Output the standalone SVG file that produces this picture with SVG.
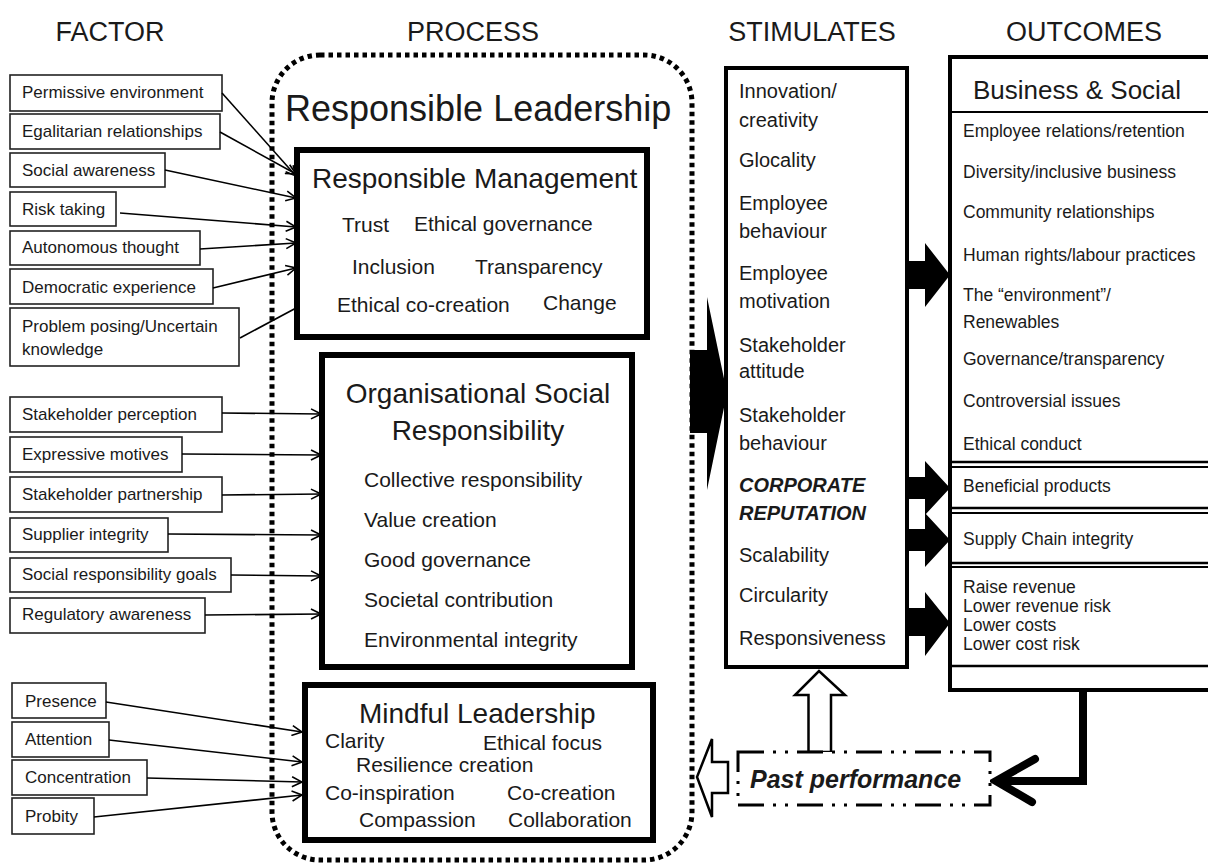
<svg xmlns="http://www.w3.org/2000/svg" width="1208" height="867" viewBox="0 0 1208 867">
<defs>
<style>
text{font-family:"Liberation Sans",Arial,sans-serif;fill:#1a1a1a}
.hdr{font-size:27px;text-anchor:middle}
.fbox{fill:#fff;stroke:#222;stroke-width:1.6}
.ft{font-size:17px}
.pbox{fill:#fff;stroke:#000;stroke-width:6}
.pt{font-size:28px}
.pi{font-size:21px}
.st{font-size:20px}
.ot{font-size:17.5px}
.conn{stroke:#000;stroke-width:1.6;fill:none}
.blk{fill:#000;stroke:none}
.hollow{fill:#fff;stroke:#000;stroke-width:2.5}
</style>
<marker id="ah" viewBox="0 0 12 12" refX="11" refY="6" markerWidth="12" markerHeight="12" markerUnits="userSpaceOnUse" orient="auto">
<path d="M1,1 L11,6 L1,11" fill="none" stroke="#000" stroke-width="1.6"/>
</marker>
</defs>
<rect width="1208" height="867" fill="#fff"/>

<g id="headers">
<text class="hdr" x="110" y="41">FACTOR</text>
<text class="hdr" x="473" y="41">PROCESS</text>
<text class="hdr" x="812" y="41">STIMULATES</text>
<text class="hdr" x="1084" y="41">OUTCOMES</text>
</g>

<g id="process-boundary">
<rect x="272" y="55" width="420" height="805" rx="48" fill="none" stroke="#000" stroke-width="5" stroke-dasharray="4.5 4"/>
<text x="285" y="121" font-size="36">Responsible Leadership</text>
</g>

<g id="f1"><rect class="fbox" x="10" y="75" width="212" height="36"/><text class="ft" x="22" y="98">Permissive environment</text></g>
<g id="f2"><rect class="fbox" x="10" y="114" width="210" height="35"/><text class="ft" x="22" y="137">Egalitarian relationships</text></g>
<g id="f3"><rect class="fbox" x="10" y="153" width="155" height="34"/><text class="ft" x="22" y="176">Social awareness</text></g>
<g id="f4"><rect class="fbox" x="10" y="192" width="106" height="34"/><text class="ft" x="22" y="215">Risk taking</text></g>
<g id="f5"><rect class="fbox" x="10" y="231" width="190" height="34"/><text class="ft" x="22" y="253">Autonomous thought</text></g>
<g id="f6"><rect class="fbox" x="10" y="269" width="203" height="35"/><text class="ft" x="22" y="293">Democratic experience</text></g>
<g id="f7"><rect class="fbox" x="10" y="308" width="229" height="58"/><text class="ft" x="22" y="332">Problem posing/Uncertain</text><text class="ft" x="22" y="355">knowledge</text></g>

<g id="f8"><rect class="fbox" x="10" y="397" width="212" height="35"/><text class="ft" x="22" y="420">Stakeholder perception</text></g>
<g id="f9"><rect class="fbox" x="10" y="437" width="172" height="35"/><text class="ft" x="22" y="460">Expressive motives</text></g>
<g id="f10"><rect class="fbox" x="10" y="477" width="212" height="35"/><text class="ft" x="22" y="500">Stakeholder partnership</text></g>
<g id="f11"><rect class="fbox" x="10" y="518" width="158" height="34"/><text class="ft" x="22" y="540">Supplier integrity</text></g>
<g id="f12"><rect class="fbox" x="10" y="558" width="221" height="34"/><text class="ft" x="22" y="580">Social responsibility goals</text></g>
<g id="f13"><rect class="fbox" x="10" y="598" width="195" height="35"/><text class="ft" x="22" y="620">Regulatory awareness</text></g>

<g id="f14"><rect class="fbox" x="12" y="683" width="94" height="35"/><text class="ft" x="25" y="707">Presence</text></g>
<g id="f15"><rect class="fbox" x="12" y="722" width="97" height="35"/><text class="ft" x="25" y="745">Attention</text></g>
<g id="f16"><rect class="fbox" x="12" y="760" width="135" height="35"/><text class="ft" x="25" y="783">Concentration</text></g>
<g id="f17"><rect class="fbox" x="12" y="798" width="82" height="36"/><text class="ft" x="25" y="822">Probity</text></g>

<g id="connectors">
<line class="conn" x1="222" y1="93" x2="296" y2="176" marker-end="url(#ah)"/>
<line class="conn" x1="220" y1="132" x2="296" y2="174" marker-end="url(#ah)"/>
<line class="conn" x1="165" y1="170" x2="296" y2="198" marker-end="url(#ah)"/>
<line class="conn" x1="120" y1="213" x2="296" y2="227" marker-end="url(#ah)"/>
<line class="conn" x1="200" y1="249" x2="296" y2="243" marker-end="url(#ah)"/>
<line class="conn" x1="213" y1="288" x2="296" y2="268" marker-end="url(#ah)"/>
<line class="conn" x1="240" y1="338" x2="298" y2="307"/>
<line class="conn" x1="222" y1="413" x2="321" y2="414" marker-end="url(#ah)"/>
<line class="conn" x1="182" y1="454" x2="321" y2="455" marker-end="url(#ah)"/>
<line class="conn" x1="222" y1="495" x2="321" y2="494" marker-end="url(#ah)"/>
<line class="conn" x1="168" y1="534" x2="321" y2="535" marker-end="url(#ah)"/>
<line class="conn" x1="231" y1="575" x2="321" y2="576" marker-end="url(#ah)"/>
<line class="conn" x1="205" y1="615" x2="321" y2="614" marker-end="url(#ah)"/>
<line class="conn" x1="106" y1="702" x2="302" y2="732" marker-end="url(#ah)"/>
<line class="conn" x1="109" y1="740" x2="302" y2="762" marker-end="url(#ah)"/>
<line class="conn" x1="147" y1="778" x2="302" y2="782" marker-end="url(#ah)"/>
<line class="conn" x1="94" y1="817" x2="302" y2="795" marker-end="url(#ah)"/>
<polygon class="blk" points="690,350 707,350 707,297 727,393 707,490 707,433 690,433"/>
<polygon class="blk" points="906,261 925,261 925,243 950,275 925,307 925,289 906,289"/>
<polygon class="blk" points="906,477 925,477 925,461 950,488 925,515 925,499 906,499"/>
<polygon class="blk" points="906,529 925,529 925,513 950,540 925,567 925,551 906,551"/>
<polygon class="blk" points="906,608 925,608 925,592 950,623 925,656 925,636 906,636"/>
<polygon class="hollow" points="808.5,752 808.5,695 795,695 819,671 845,695 831,695 831,752"/>
<polygon class="hollow" points="728,762 712,762 712,739 697,777 712,817 712,793 728,793"/>
<path d="M1083,691 V781 H998" fill="none" stroke="#000" stroke-width="8"/>
<polyline points="1035,759 996,781 1032,802" fill="none" stroke="#000" stroke-width="8" stroke-linecap="round" stroke-linejoin="miter"/>
</g>

<g id="responsible-management">
<rect class="pbox" x="297" y="150" width="350" height="187"/>
<text class="pt" x="312" y="188">Responsible Management</text>
<text class="pi" x="342" y="232">Trust</text>
<text class="pi" x="414" y="231">Ethical governance</text>
<text class="pi" x="352" y="274">Inclusion</text>
<text class="pi" x="475" y="274">Transparency</text>
<text class="pi" x="337" y="312">Ethical co-creation</text>
<text class="pi" x="543" y="310">Change</text>
</g>

<g id="osr">
<rect class="pbox" x="322" y="355" width="310" height="312"/>
<text class="pt" x="478" y="403" text-anchor="middle">Organisational Social</text>
<text class="pt" x="478" y="440" text-anchor="middle">Responsibility</text>
<text class="pi" x="364" y="487">Collective responsibility</text>
<text class="pi" x="364" y="527">Value creation</text>
<text class="pi" x="364" y="567">Good governance</text>
<text class="pi" x="364" y="607">Societal contribution</text>
<text class="pi" x="364" y="647">Environmental integrity</text>
</g>

<g id="mindful-leadership">
<rect class="pbox" x="305" y="685" width="348" height="155"/>
<text class="pt" x="359" y="723">Mindful Leadership</text>
<text class="pi" x="325" y="748">Clarity</text>
<text class="pi" x="483" y="750">Ethical focus</text>
<text class="pi" x="356" y="772">Resilience creation</text>
<text class="pi" x="325" y="800">Co-inspiration</text>
<text class="pi" x="507" y="800">Co-creation</text>
<text class="pi" x="359" y="827">Compassion</text>
<text class="pi" x="508" y="827">Collaboration</text>
</g>

<g id="stimulates">
<rect x="726" y="68" width="181" height="599" fill="#fff" stroke="#000" stroke-width="4"/>
<text class="st" x="739" y="98">Innovation/</text>
<text class="st" x="739" y="127">creativity</text>
<text class="st" x="739" y="167">Glocality</text>
<text class="st" x="739" y="210">Employee</text>
<text class="st" x="739" y="238">behaviour</text>
<text class="st" x="739" y="280">Employee</text>
<text class="st" x="739" y="308">motivation</text>
<text class="st" x="739" y="352">Stakeholder</text>
<text class="st" x="739" y="378">attitude</text>
<text class="st" x="739" y="422">Stakeholder</text>
<text class="st" x="739" y="450">behaviour</text>
<text class="st" x="739" y="492" font-weight="bold" font-style="italic">CORPORATE</text>
<text class="st" x="739" y="520" font-weight="bold" font-style="italic">REPUTATION</text>
<text class="st" x="739" y="562">Scalability</text>
<text class="st" x="739" y="602">Circularity</text>
<text class="st" x="739" y="645">Responsiveness</text>
</g>

<g id="outcomes">
<rect x="950" y="57" width="270" height="633" fill="#fff" stroke="none"/>
<path d="M1215,57 H950 V690 H1215" fill="none" stroke="#000" stroke-width="4"/>
<line x1="950" y1="112" x2="1215" y2="112" stroke="#000" stroke-width="2"/>
<line x1="950" y1="462" x2="1215" y2="462" stroke="#000" stroke-width="2.5"/>
<line x1="950" y1="467" x2="1215" y2="467" stroke="#000" stroke-width="2"/>
<line x1="950" y1="508" x2="1215" y2="508" stroke="#000" stroke-width="2.5"/>
<line x1="950" y1="513" x2="1215" y2="513" stroke="#000" stroke-width="2"/>
<line x1="950" y1="563" x2="1215" y2="563" stroke="#000" stroke-width="2.5"/>
<line x1="950" y1="567" x2="1215" y2="567" stroke="#000" stroke-width="2"/>
<line x1="950" y1="666" x2="1215" y2="666" stroke="#000" stroke-width="2.5"/>
<text x="973" y="99" font-size="26">Business &amp; Social</text>
<text class="ot" x="963" y="137">Employee relations/retention</text>
<text class="ot" x="963" y="178">Diversity/inclusive business</text>
<text class="ot" x="963" y="218">Community relationships</text>
<text class="ot" x="963" y="261">Human rights/labour practices</text>
<text class="ot" x="963" y="301">The “environment”/</text>
<text class="ot" x="963" y="328">Renewables</text>
<text class="ot" x="963" y="365">Governance/transparency</text>
<text class="ot" x="963" y="407">Controversial issues</text>
<text class="ot" x="963" y="450">Ethical conduct</text>
<text class="ot" x="963" y="492">Beneficial products</text>
<text class="ot" x="963" y="545">Supply Chain integrity</text>
<text class="ot" x="963" y="593">Raise revenue</text>
<text class="ot" x="963" y="612">Lower revenue risk</text>
<text class="ot" x="963" y="631">Lower costs</text>
<text class="ot" x="963" y="650">Lower cost risk</text>
</g>

<g id="past-performance">
<rect x="738" y="752" width="252" height="53" fill="#fff" stroke="#000" stroke-width="3" stroke-dasharray="26 9 3 9 3 9"/>
<text x="750" y="788" font-size="25" font-weight="bold" font-style="italic">Past performance</text>
</g>
</svg>
